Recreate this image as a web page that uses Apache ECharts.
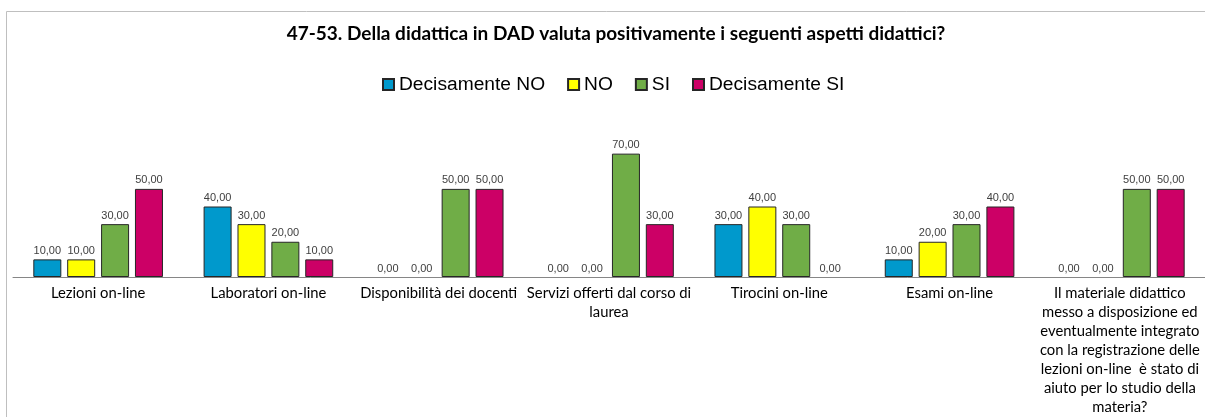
<!DOCTYPE html>
<html lang="it">
<head>
  <meta charset="UTF-8">
  <title>47-53</title>
  <style>
    html, body { margin: 0; padding: 0; background: #fff; }
  </style>
</head>
<body>
<div id="main" style="width: 1205px;height: 417px"></div>
<script type="text/javascript" src="https://cdn.jsdelivr.net/npm/echarts@6/dist/echarts.min.js"></script>
<script>
var categorie = [
  'Lezioni on-line',
  'Laboratori on-line',
  'Disponibilità dei docenti',
  'Servizi offerti dal corso di\nlaurea',
  'Tirocini on-line',
  'Esami on-line',
  'Il materiale didattico\nmesso a disposizione ed\neventualmente integrato\ncon la registrazione delle\nlezioni on-line  è stato di\naiuto per lo studio della\nmateria?'
];
var decisamenteNo = [10, 40, 0, 0, 30, 10, 0];
var no = [10, 30, 0, 0, 40, 20, 0];
var si = [30, 20, 50, 70, 30, 30, 50];
var decisamenteSi = [50, 10, 50, 30, 0, 40, 50];

var nomiSerie = ['Decisamente NO', 'NO', 'SI', 'Decisamente SI'];
var colori = ['#0099CC', '#FFFF00', '#70AD47', '#CC0066'];
var valori = [decisamenteNo, no, si, decisamenteSi];

function serie(i) {
  return {
    name: nomiSerie[i],
    type: 'bar',
    barWidth: 28,
    barGap: '21%',
    itemStyle: { color: colori[i], borderColor: '#262626', borderWidth: 1 },
    label: {
      show: true,
      position: 'top',
      distance: 3,
      fontFamily: 'Liberation Sans, Arial',
      fontSize: 11,
      color: '#404040',
      formatter: function (p) { return p.value.toFixed(2).replace('.', ','); }
    },
    // le barre a zero non hanno bordo visibile
    data: valori[i].map(function (v) {
      return v === 0 ? { value: v, itemStyle: { borderWidth: 0 } } : v;
    })
  };
}

var option = {
  animation: false,
  backgroundColor: '#fff',
  graphic: [{
    type: 'rect',
    shape: { x: 6.5, y: 11.5, width: 1240, height: 440 },
    style: { fill: 'none', stroke: '#BFBFBF', lineWidth: 1 }
  }],
  title: {
    text: '47-53. Della didattica in DAD valuta positivamente i seguenti aspetti didattici?',
    left: 611,
    top: 19,
    textAlign: 'center',
    textStyle: { fontFamily: 'Lato', fontWeight: 'bold', fontSize: 19, color: '#000' }
  },
  legend: {
    left: 382,
    top: 75,
    padding: 0,
    itemWidth: 11,
    itemHeight: 11,
    itemGap: 22,
    icon: 'rect',
    textStyle: { fontFamily: 'Liberation Sans, Arial', fontSize: 19.2, color: '#000' },
    data: nomiSerie
  },
  grid: { left: 13, top: 136, width: 1197, height: 141 },
  xAxis: {
    type: 'category',
    data: categorie,
    axisLine: { lineStyle: { color: '#868686', width: 1 } },
    axisTick: { show: false },
    axisLabel: {
      interval: 0,
      margin: 7,
      fontFamily: 'Lato',
      fontSize: 14.8,
      lineHeight: 19,
      color: '#000',
      align: 'center'
    }
  },
  yAxis: {
    type: 'value',
    min: 0,
    max: 80,
    show: false,
    splitLine: { show: false }
  },
  series: [serie(0), serie(1), serie(2), serie(3)]
};

var myChart = echarts.init(document.getElementById('main'));
myChart.setOption(option);
</script>
</body>
</html>
